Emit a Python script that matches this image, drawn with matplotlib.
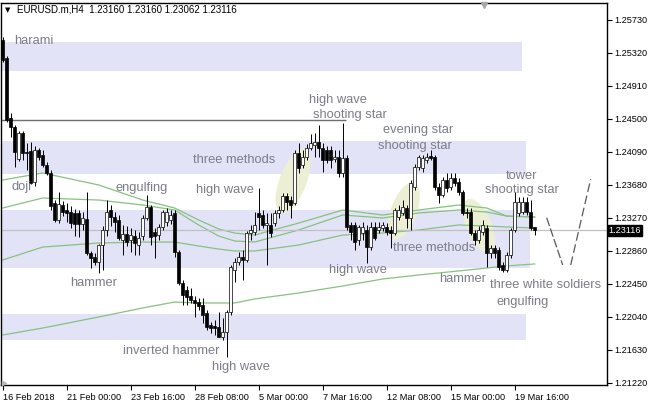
import matplotlib
matplotlib.use("Agg")
import matplotlib.pyplot as plt
from matplotlib.patches import Ellipse, Rectangle
from matplotlib.transforms import ScaledTranslation, blended_transform_factory

# EURUSD.m H4 candles
opens = [1.25481, 1.25257, 1.24512, 1.24400, 1.24003, 1.24326, 1.24090, 1.24102, 1.23717, 1.24114,
         1.24052, 1.23928, 1.23829, 1.23456, 1.23245, 1.23431, 1.23369, 1.23344, 1.23332, 1.23332,
         1.23195, 1.23257, 1.22835, 1.22785, 1.22723, 1.22934, 1.23121, 1.23369, 1.23282, 1.23245,
         1.22996, 1.23071, 1.22996, 1.23046, 1.22934, 1.23046, 1.23270, 1.23406, 1.23096, 1.23058,
         1.23158, 1.23220, 1.23245, 1.23332, 1.22847, 1.22462, 1.22375, 1.22300, 1.22251, 1.22226,
         1.22189, 1.22089, 1.21940, 1.21928, 1.21915, 1.21791, 1.21853, 1.22102, 1.22624, 1.22723,
         1.22785, 1.22748, 1.23083, 1.23096, 1.23332, 1.23307, 1.23183, 1.23183, 1.23207, 1.23332,
         1.23369, 1.23543, 1.23493, 1.23456, 1.24077, 1.23928, 1.24027, 1.24139, 1.24177, 1.24214,
         1.24139, 1.24114, 1.24114, 1.24003, 1.24027, 1.23829, 1.24015, 1.23183, 1.23183, 1.22996,
         1.23083, 1.23121, 1.22909, 1.23158, 1.23121, 1.23145, 1.23158, 1.23121, 1.23083, 1.23282,
         1.23332, 1.23394, 1.23270, 1.23655, 1.23903, 1.23891, 1.23990, 1.24040, 1.24027, 1.23655,
         1.23555, 1.23742, 1.23655, 1.23767, 1.23717, 1.23593, 1.23344, 1.23344, 1.23083, 1.22996,
         1.23096, 1.23145, 1.22835, 1.22897, 1.22872, 1.22686, 1.22624, 1.22810, 1.23121, 1.23332,
         1.23344, 1.23468, 1.23344, 1.23160]
highs = [1.25518, 1.25282, 1.24574, 1.24425, 1.24350, 1.24350, 1.24201, 1.24214, 1.24164, 1.24139,
         1.24114, 1.23965, 1.23866, 1.23493, 1.23593, 1.23481, 1.23456, 1.23419, 1.23381, 1.23369,
         1.23344, 1.23593, 1.22860, 1.22835, 1.22947, 1.23170, 1.23493, 1.23431, 1.23344, 1.23307,
         1.23183, 1.23170, 1.23145, 1.23121, 1.23096, 1.23307, 1.23555, 1.23431, 1.23145, 1.23195,
         1.23369, 1.23394, 1.23369, 1.23369, 1.22872, 1.22499, 1.22425, 1.22400, 1.22300, 1.22276,
         1.22276, 1.22127, 1.21978, 1.22002, 1.22102, 1.22027, 1.22127, 1.22686, 1.22773, 1.22847,
         1.22872, 1.23108, 1.23183, 1.23344, 1.23642, 1.23369, 1.23332, 1.23332, 1.23369, 1.23419,
         1.23580, 1.23580, 1.23543, 1.24114, 1.24201, 1.24114, 1.24189, 1.24313, 1.24326, 1.24425,
         1.24201, 1.24164, 1.24164, 1.24114, 1.24114, 1.24450, 1.24052, 1.23220, 1.23220, 1.23183,
         1.23220, 1.23183, 1.23220, 1.23220, 1.23220, 1.23220, 1.23207, 1.23170, 1.23394, 1.23431,
         1.23493, 1.23431, 1.23742, 1.23940, 1.24052, 1.24052, 1.24077, 1.24114, 1.24052, 1.23704,
         1.23779, 1.23829, 1.23829, 1.23829, 1.23767, 1.23617, 1.23394, 1.23394, 1.23121, 1.23170,
         1.23245, 1.23183, 1.22934, 1.22934, 1.22909, 1.22723, 1.22847, 1.23145, 1.23593, 1.23530,
         1.23530, 1.23530, 1.23493, 1.23160]
lows = [1.25208, 1.24462, 1.24276, 1.23903, 1.23978, 1.23990, 1.23866, 1.23692, 1.23667, 1.23990,
        1.23903, 1.23804, 1.23369, 1.23220, 1.23207, 1.23294, 1.23220, 1.23145, 1.23046, 1.23034,
        1.23121, 1.22810, 1.22648, 1.22686, 1.22586, 1.22624, 1.23046, 1.23170, 1.23096, 1.22996,
        1.22810, 1.22922, 1.22847, 1.22810, 1.22810, 1.22996, 1.23245, 1.22934, 1.22773, 1.22996,
        1.23121, 1.23170, 1.23195, 1.22785, 1.22437, 1.22189, 1.22189, 1.22214, 1.22040, 1.22127,
        1.21965, 1.21878, 1.21841, 1.21816, 1.21791, 1.21754, 1.21543, 1.22064, 1.22474, 1.22686,
        1.22499, 1.22723, 1.22996, 1.23058, 1.23121, 1.23145, 1.22686, 1.23034, 1.23170, 1.23270,
        1.23344, 1.23369, 1.23270, 1.23431, 1.23829, 1.23891, 1.23990, 1.24114, 1.24027, 1.24027,
        1.23841, 1.23953, 1.23891, 1.23965, 1.23779, 1.23779, 1.23121, 1.22996, 1.22872, 1.22934,
        1.22996, 1.22710, 1.22872, 1.22996, 1.23083, 1.23108, 1.23058, 1.22897, 1.23058, 1.23245,
        1.23307, 1.23145, 1.23121, 1.23617, 1.23866, 1.23841, 1.23953, 1.23990, 1.23617, 1.23456,
        1.23530, 1.23593, 1.23617, 1.23667, 1.23555, 1.23307, 1.23270, 1.23058, 1.22934, 1.22959,
        1.23058, 1.22661, 1.22773, 1.22773, 1.22624, 1.22599, 1.22599, 1.22773, 1.23096, 1.23294,
        1.23319, 1.23307, 1.23121, 1.23062]
closes = [1.25233, 1.24487, 1.24400, 1.24090, 1.24326, 1.24077, 1.24077, 1.23704, 1.24114, 1.24027,
          1.23928, 1.23829, 1.23419, 1.23245, 1.23444, 1.23344, 1.23332, 1.23207, 1.23195, 1.23195,
          1.23270, 1.22835, 1.22773, 1.22723, 1.22934, 1.23121, 1.23344, 1.23282, 1.23220, 1.23021,
          1.23071, 1.22971, 1.23058, 1.22959, 1.23021, 1.23270, 1.23406, 1.23034, 1.23046, 1.23158,
          1.23344, 1.23344, 1.23307, 1.22847, 1.22462, 1.22313, 1.22288, 1.22251, 1.22214, 1.22176,
          1.22064, 1.21915, 1.21903, 1.21903, 1.21791, 1.21853, 1.22102, 1.22661, 1.22723, 1.22785,
          1.22748, 1.23083, 1.23121, 1.23183, 1.23282, 1.23183, 1.23207, 1.23083, 1.23332, 1.23369,
          1.23543, 1.23468, 1.23431, 1.24077, 1.23891, 1.24027, 1.24139, 1.24201, 1.24214, 1.24139,
          1.23990, 1.23990, 1.23990, 1.24027, 1.23829, 1.24015, 1.23158, 1.23096, 1.22971, 1.23158,
          1.23158, 1.22909, 1.23158, 1.23021, 1.23158, 1.23183, 1.23096, 1.23083, 1.23369, 1.23369,
          1.23406, 1.23270, 1.23704, 1.23903, 1.24027, 1.24015, 1.24027, 1.24015, 1.23655, 1.23555,
          1.23742, 1.23642, 1.23767, 1.23704, 1.23593, 1.23332, 1.23332, 1.23083, 1.22996, 1.23121,
          1.23183, 1.22835, 1.22897, 1.22835, 1.22661, 1.22624, 1.22810, 1.23121, 1.23468, 1.23468,
          1.23468, 1.23344, 1.23145, 1.23116]

# moving averages, sampled at these bars
ma_bars = [0, 10, 24, 35, 43, 49, 54, 58, 63, 74, 85, 95, 104, 114, 121, 126, 133]
ma_a = [1.23742, 1.23829, 1.23680, 1.23493, 1.23394, 1.23245, 1.23133, 1.23083, 1.23058, 1.23207,
        1.23369, 1.23307, 1.23369, 1.23431, 1.23394, 1.23294, 1.23282]
ma_b = [1.23394, 1.23518, 1.23493, 1.23431, 1.23369, 1.23183, 1.23046, 1.22984, 1.22971, 1.23121,
        1.23307, 1.23270, 1.23332, 1.23369, 1.23344, 1.23294, 1.23282]
ma_c = [1.22748, 1.22909, 1.22959, 1.22971, 1.22971, 1.22922, 1.22884, 1.22860, 1.22860, 1.22934,
        1.23058, 1.23083, 1.23121, 1.23183, 1.23170, 1.23158, 1.23145]
ma_d = [1.21816, 1.21903, 1.22040, 1.22152, 1.22226, 1.22214, 1.22214, 1.22214, 1.22264, 1.22338,
        1.22425, 1.22512, 1.22562, 1.22612, 1.22648, 1.22674, 1.22699]

# support/resistance zones: top, bottom, last bar
zone_top = [1.25456, 1.24226, 1.23369, 1.22077]
zone_bottom = [1.25096, 1.23816, 1.22648, 1.21754]
zone_end = [129.8, 130.8, 131.8, 130.8]

level_price = 1.24487
last_price = 1.23116
forecast_bars = [136, 140, 142, 147]
forecast_prices = [1.23273, 1.22686, 1.22686, 1.23754]

date_ticks = [0, 16, 32, 48, 64, 80, 96, 112, 128]
date_labels = ["16 Feb 2018", "21 Feb 00:00", "23 Feb 16:00", "28 Feb 08:00", "5 Mar 00:00",
               "7 Mar 16:00", "12 Mar 08:00", "15 Mar 00:00", "19 Mar 16:00"]
price_ticks = [1.25730, 1.25320, 1.24910, 1.24500, 1.24090, 1.23680,
               1.23270, 1.22860, 1.22450, 1.22040, 1.21630, 1.21220]

# candle pattern captions
patterns = [("harami", 7.8, 1.25469), ("doji", 4.8, 1.23655), ("engulfing", 34.8, 1.23642),
            ("high wave", 55.6, 1.23617), ("three methods", 57.8, 1.23990),
            ("high wave", 83.8, 1.24736), ("shooting star", 86.8, 1.24548),
            ("evening star", 103.8, 1.24363), ("shooting star", 103.1, 1.24164),
            ("tower", 129.8, 1.23791), ("shooting star", 129.8, 1.23617),
            ("hammer", 22.8, 1.22462), ("inverted hammer", 42.1, 1.21617),
            ("high wave", 59.6, 1.21418), ("high wave", 88.8, 1.22624),
            ("three methods", 107.8, 1.22897), ("hammer", 115.1, 1.22512),
            ("three white soldiers", 135.8, 1.22437), ("engulfing", 130.1, 1.22226)]

fig = plt.figure(figsize=(6.48, 4.07), dpi=100)
ax = fig.add_axes([1 / 648, 22 / 407, 606 / 648, 382 / 407])
ax.set_xlim(-0.425, 151.075)
ax.set_ylim(1.21195, 1.25941)

for top, bot, end in zip(zone_top, zone_bottom, zone_end):
    ax.add_patch(Rectangle((-1, bot), end + 1, top - bot, facecolor="#E3E3F7",
                           edgecolor="none", zorder=0))

# highlighted candle groups
def blob(bar, price, length, width, angle):
    tr = fig.dpi_scale_trans + ScaledTranslation(bar, price, ax.transData)
    ax.add_patch(Ellipse((0, 0), length / 100, width / 100, angle=angle, transform=tr,
                         facecolor="#ECEFD4", edgecolor="none", zorder=1))

blob(72.6, 1.23730, 68, 27, 69)
blob(100.3, 1.23356, 60, 26, 70)
blob(119.1, 1.23170, 58, 25, -67)

for ma in (ma_a, ma_b, ma_c, ma_d):
    ax.plot(ma_bars, ma, color="#86C27F", lw=0.9, zorder=2)

ax.hlines(level_price, -0.425, 85.8, color="#6E6E6E", lw=1, zorder=2)
ax.axhline(last_price, color="#C0C0C0", lw=0.9, zorder=2)

bars = range(len(opens))
ax.vlines(bars, lows, highs, color="black", lw=0.7, zorder=3)
bottoms = [min(o, c) for o, c in zip(opens, closes)]
heights = [max(abs(c - o), 0.00002) for o, c in zip(opens, closes)]
faces = ["white" if c > o else "black" for o, c in zip(opens, closes)]
ax.bar(bars, heights, bottom=bottoms, width=0.68, color=faces, edgecolor="black",
       linewidth=0.5, zorder=4)

ax.plot(forecast_bars[:2], forecast_prices[:2], color="#5A5A5A", lw=0.9, ls=(0, (7, 2)), zorder=2)
ax.plot(forecast_bars[2:], forecast_prices[2:], color="#5A5A5A", lw=0.9, ls=(0, (7, 3)), zorder=2)

for txt, b, p in patterns:
    ax.text(b, p, txt, ha="center", va="center", fontsize=9.3, color="#7C7C8A",
            family="Liberation Sans", zorder=5)

# chart shift markers
ax.plot([120.3], [1.25916], marker="v", ms=5, color="#A8A8A8", clip_on=False, zorder=6)
ax.plot([0.2], [1.21225], marker=">", ms=3, color="#B8B8B8", clip_on=False, zorder=6)

ax.yaxis.tick_right()
ax.set_yticks(price_ticks)
ax.set_yticklabels([f"{t:.5f}" for t in price_ticks])
ax.set_xticks(date_ticks)
ax.set_xticklabels(date_labels)
for lbl in ax.get_xticklabels():
    lbl.set_horizontalalignment("left")
ax.tick_params(axis="both", direction="out", length=3.5, width=0.8, labelsize=6.6, pad=1.5)
ax.tick_params(axis="x", pad=2.5)
for lbl in ax.get_xticklabels() + ax.get_yticklabels():
    lbl.set_family("Liberation Sans")
for s in ax.spines.values():
    s.set_linewidth(1)

tr = blended_transform_factory(ax.transAxes, ax.transData)
ax.text(1.003, last_price, "1.23116", transform=tr, ha="left", va="center", fontsize=6.6,
        color="white", family="Liberation Sans", zorder=7,
        bbox=dict(boxstyle="square,pad=0.12", facecolor="black", edgecolor="black"))

fig.text(5 / 648, 1 - 10 / 407, "\u25bc", fontsize=5, va="center", family="DejaVu Sans")
fig.text(17 / 648, 1 - 10 / 407, "EURUSD.m,H4  1.23160 1.23160 1.23062 1.23116",
         fontsize=7, va="center", family="Liberation Sans")

fig.savefig("out.png", dpi=100)
